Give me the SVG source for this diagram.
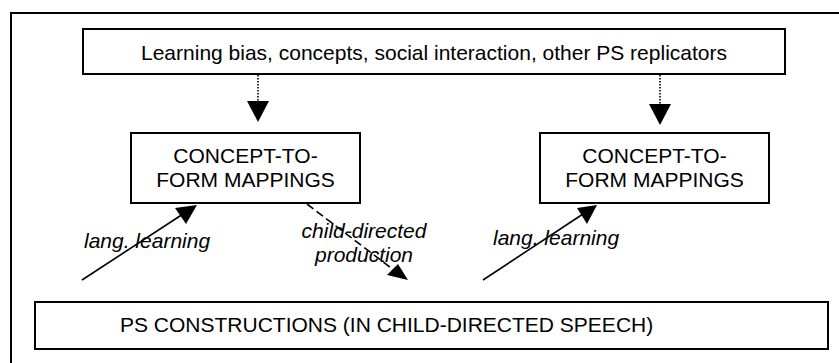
<svg xmlns="http://www.w3.org/2000/svg" width="839" height="363" viewBox="0 0 839 363">
<style>
.box{fill:#fff;stroke:#000;stroke-width:2}
.t{font-family:"Liberation Sans",Arial,sans-serif;font-size:21px;fill:#000}
.i{font-family:"Liberation Sans",Arial,sans-serif;font-size:21px;font-style:italic;fill:#000}
.ln{stroke:#000;stroke-width:1.6;fill:none}
.head{fill:#000;stroke:none}
</style>
<rect width="839" height="363" fill="#fff"/>
<rect x="11" y="13" width="840" height="360" fill="none" stroke="#000" stroke-width="2"/>
<g id="top">
<rect class="box" x="83" y="29" width="702" height="45"/>
<text class="t" x="434" y="60" text-anchor="middle">Learning bias, concepts, social interaction, other PS replicators</text>
</g>
<g id="concept-left">
<rect class="box" x="131" y="133" width="229" height="70"/>
<text class="t" x="245.5" y="163" text-anchor="middle">CONCEPT-TO-</text>
<text class="t" x="245.5" y="187" text-anchor="middle">FORM MAPPINGS</text>
</g>
<g id="concept-right">
<rect class="box" x="540" y="133" width="229" height="70"/>
<text class="t" x="654.5" y="163" text-anchor="middle">CONCEPT-TO-</text>
<text class="t" x="654.5" y="187" text-anchor="middle">FORM MAPPINGS</text>
</g>
<g id="bottom">
<rect class="box" x="35" y="302" width="793" height="47"/>
<text class="t" x="120" y="332">PS CONSTRUCTIONS (IN CHILD-DIRECTED SPEECH)</text>
</g>
<g id="connectors">
<line class="ln" x1="258" y1="75" x2="258" y2="101" stroke-dasharray="1.5,1.5"/>
<polygon class="head" points="247,101 269,101 258,122"/>
<line class="ln" x1="660" y1="75" x2="660" y2="104" stroke-dasharray="1.5,1.5"/>
<polygon class="head" points="649,104 671,104 660,125"/>
<line class="ln" x1="82" y1="280" x2="183" y2="214"/>
<polygon class="head" points="197,205 175,208 186,224"/>
<line class="ln" x1="483" y1="280" x2="583" y2="214"/>
<polygon class="head" points="597,205 577,208 587,224"/>
<line class="ln" x1="307" y1="204" x2="395" y2="271" stroke-dasharray="8,4"/>
<polygon class="head" points="408,280 387,275 398,264"/>
<text class="i" x="84" y="248">lang. learning</text>
<text class="i" x="493" y="245">lang. learning</text>
<text class="i" x="364" y="238" text-anchor="middle">child-directed</text>
<text class="i" x="364" y="262" text-anchor="middle">production</text>
</g>
</svg>
